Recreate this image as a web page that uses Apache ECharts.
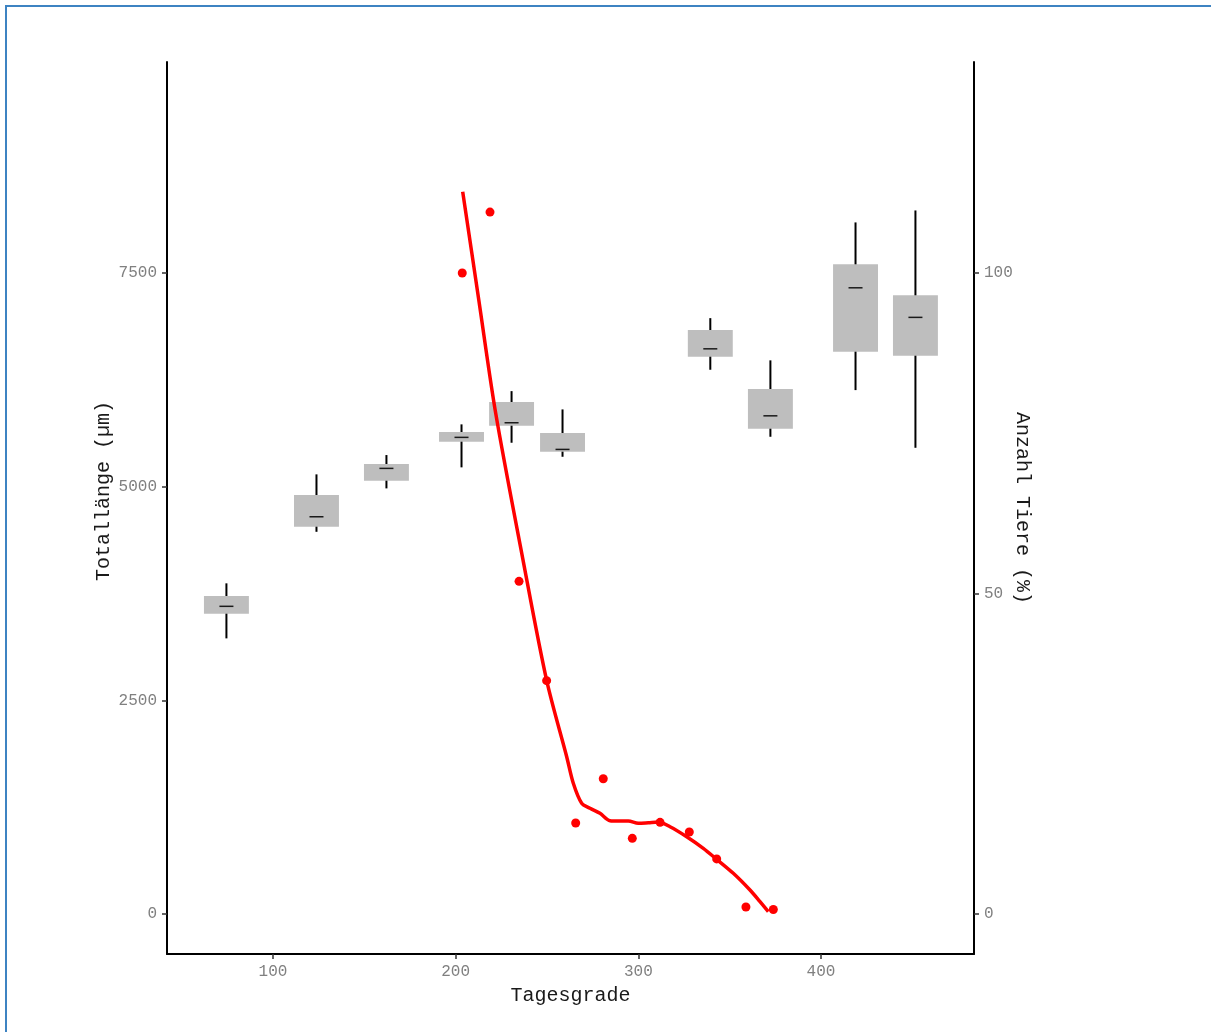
<!DOCTYPE html>
<html>
<head>
<meta charset="utf-8">
<title>Totallänge und Anzahl Tiere nach Tagesgraden</title>
<script src="https://cdn.jsdelivr.net/npm/echarts@6/dist/echarts.min.js"></script>
<style>
  html, body { margin: 0; padding: 0; background: #ffffff; overflow: hidden; }
  #chart { position: absolute; left: 0; top: 0; width: 1211px; height: 1032px; }
  #frame {
    position: absolute; left: 5px; top: 5px; width: 1400px; height: 1200px;
    border-left: 2px solid #3d83c2; border-top: 2px solid #3d83c2;
    pointer-events: none;
  }
</style>
</head>
<body>
<div id="chart"></div>
<div id="frame"></div>
<script>
// Box summaries of total length (µm) per degree-day sample
const boxX      = [74.5, 123.8, 162.1, 203.2, 230.6, 258.5, 339.4, 372.3, 418.9, 451.7];
const boxLow    = [3225, 4472, 4980, 5226, 5514, 5350, 6368, 5584, 6130, 5455];
const boxQ1     = [3513, 4531, 5069, 5525, 5712, 5408, 6520, 5677, 6578, 6531];
const boxMedian = [3600, 4648, 5214, 5577, 5748, 5436, 6613, 5829, 7327, 6981];
const boxQ3     = [3720, 4902, 5264, 5639, 5990, 5627, 6832, 6142, 7604, 7241];
const boxHigh   = [3869, 5144, 5370, 5729, 6118, 5904, 6972, 6478, 8092, 8232];

// Share of animals (%) per degree-day
const pointX = [203.6, 218.8, 234.7, 249.8, 265.7, 280.8, 296.7, 311.9, 327.9, 342.9, 358.9, 373.9];
const pointY = [100.0, 109.5, 51.9, 36.4, 14.2, 21.1, 11.8, 14.3, 12.8, 8.6, 1.1, 0.7];

// Smoothed trend of the share of animals (%)
const trendX = [203.85, 212.66, 221.92, 236.70, 249.84, 260.78, 264.40, 268.99, 273.54, 279.01,
                284.49, 289.03, 294.51, 299.98, 305.46, 310.93, 317.34, 326.48, 335.57, 342.90,
                351.99, 361.13, 366.61, 371.15];
const trendY = [112.68, 95.79, 78.11, 55.49, 36.40, 24.54, 20.39, 17.27, 16.49, 15.71,
                14.56, 14.51, 14.51, 14.15, 14.24, 14.35, 13.62, 12.06, 10.25, 8.53,
                6.35, 3.74, 1.92, 0.36];

// Tick labels
const xTicks = [100, 200, 300, 400];
const yLeftTicks = [0, 2500, 5000, 7500];
const yRightTicks = [0, 50, 100];

const FONT = "'Liberation Mono', 'DejaVu Sans Mono', monospace";
const BOX_WIDTH = 24.6;      // in degree-day units
const MEDIAN_PX = 14;        // median tick length in pixels
const PCT_SCALE = 75;        // 1 % on the right axis equals 75 µm on the left axis

const leftMin = -468, leftMax = 9969;

const boxData = boxX.map((x, i) => [x, boxLow[i], boxQ1[i], boxMedian[i], boxQ3[i], boxHigh[i]]);
const pointData = pointX.map((x, i) => [x, pointY[i]]);
const trendData = trendX.map((x, i) => [x, trendY[i]]);

const plain = v => String(v);

function tickStyle(values) {
  return { show: true, length: 5, customValues: values, lineStyle: { color: '#333333', width: 1.5 } };
}
function labelStyle(values) {
  return { customValues: values, margin: 10, color: '#808080', fontFamily: FONT, fontSize: 16, formatter: plain };
}
function axisCommon() {
  return {
    axisLine: { show: true, onZero: false, lineStyle: { color: '#000000', width: 2 } },
    splitLine: { show: false },
    nameMoveOverlap: false,
    nameTextStyle: { fontFamily: FONT, fontSize: 20, color: '#1a1a1a' }
  };
}

const chart = echarts.init(document.getElementById('chart'), null, { renderer: 'canvas' });

chart.setOption({
  animation: false,
  backgroundColor: '#ffffff',
  grid: { left: 167, right: 237, top: 62, bottom: 78, containLabel: false },
  xAxis: Object.assign(axisCommon(), {
    type: 'value',
    min: 41.97,
    max: 483.76,
    name: 'Tagesgrade',
    nameLocation: 'middle',
    nameGap: 32,
    axisTick: tickStyle(xTicks),
    axisLabel: labelStyle(xTicks)
  }),
  yAxis: [
    Object.assign(axisCommon(), {
      type: 'value',
      position: 'left',
      min: leftMin,
      max: leftMax,
      name: 'Totallänge (µm)',
      nameLocation: 'middle',
      nameGap: 53,
      nameTextStyle: { fontFamily: FONT, fontSize: 20, color: '#1a1a1a', padding: [0, 0, 0, 34] },
      axisTick: tickStyle(yLeftTicks),
      axisLabel: labelStyle(yLeftTicks)
    }),
    Object.assign(axisCommon(), {
      type: 'value',
      position: 'right',
      min: leftMin / PCT_SCALE,
      max: leftMax / PCT_SCALE,
      name: 'Anzahl Tiere (%)',
      nameLocation: 'middle',
      nameRotate: -90,
      nameGap: 38,
      axisTick: tickStyle(yRightTicks),
      axisLabel: labelStyle(yRightTicks)
    })
  ],
  series: [
    {
      type: 'custom',
      name: 'Totallänge',
      xAxisIndex: 0,
      yAxisIndex: 0,
      data: boxData,
      encode: { x: 0, y: [1, 2, 3, 4, 5] },
      z: 2,
      renderItem: function (params, api) {
        const x = api.value(0);
        const pLow = api.coord([x, api.value(1)]);
        const pQ1 = api.coord([x, api.value(2)]);
        const pMed = api.coord([x, api.value(3)]);
        const pQ3 = api.coord([x, api.value(4)]);
        const pHigh = api.coord([x, api.value(5)]);
        const halfW = api.size([BOX_WIDTH, 0])[0] / 2;
        return {
          type: 'group',
          children: [
            {
              type: 'line',
              shape: { x1: pLow[0], y1: pLow[1], x2: pHigh[0], y2: pHigh[1] },
              style: { stroke: '#000000', lineWidth: 2 }
            },
            {
              type: 'rect',
              shape: { x: pQ3[0] - halfW, y: pQ3[1], width: halfW * 2, height: pQ1[1] - pQ3[1] },
              style: { fill: '#bebebe' }
            },
            {
              type: 'line',
              shape: { x1: pMed[0] - MEDIAN_PX / 2, y1: pMed[1], x2: pMed[0] + MEDIAN_PX / 2, y2: pMed[1] },
              style: { stroke: '#1a1a1a', lineWidth: 1.5 }
            }
          ]
        };
      }
    },
    {
      type: 'line',
      name: 'Trend',
      xAxisIndex: 0,
      yAxisIndex: 1,
      data: trendData,
      smooth: 0.3,
      showSymbol: false,
      symbol: 'none',
      lineStyle: { color: '#ff0000', width: 3.5 },
      z: 3
    },
    {
      type: 'scatter',
      name: 'Anzahl Tiere',
      xAxisIndex: 0,
      yAxisIndex: 1,
      data: pointData,
      symbol: 'circle',
      symbolSize: 9,
      itemStyle: { color: '#ff0000', opacity: 1 },
      z: 4
    }
  ]
});
</script>
</body>
</html>
